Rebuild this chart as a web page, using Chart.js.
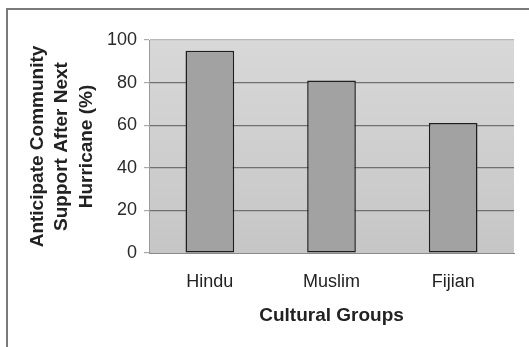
<!DOCTYPE html>
<html>
<head>
<meta charset="utf-8">
<script src="https://cdn.jsdelivr.net/npm/chart.js@4"></script>
<style>
  html, body { margin: 0; padding: 0; background: #fff; }
  #wrap { width: 529px; height: 347px; }
</style>
</head>
<body>
<div id="wrap"><canvas id="supportChart" width="529" height="347"></canvas></div>
<script>
// 各文化群體預期颶風後的社區支援
const groups = ['Hindu', 'Muslim', 'Fijian'];
const supportPct = [95, 81, 61];
const yTicks = [0, 20, 40, 60, 80, 100];

// 繪圖區灰色漸層背景
const plotBackground = {
    id: 'plotBackground',
    beforeDraw(chart) {
        const { ctx, chartArea: a } = chart;
        const g = ctx.createLinearGradient(0, a.top, 0, a.bottom);
        g.addColorStop(0, '#d8d8d8');
        g.addColorStop(1, '#c6c6c6');
        ctx.save();
        ctx.fillStyle = g;
        ctx.fillRect(a.left, a.top, a.right - a.left, a.bottom - a.top);
        ctx.restore();
    }
};

// 外框（左邊與上邊）
const outerFrame = {
    id: 'outerFrame',
    afterDraw(chart) {
        const ctx = chart.ctx;
        ctx.save();
        ctx.strokeStyle = '#7a7a7a';
        ctx.lineWidth = 2;
        ctx.beginPath();
        ctx.moveTo(7, 347);
        ctx.lineTo(7, 9);
        ctx.lineTo(529, 9);
        ctx.stroke();
        ctx.restore();
    }
};

document.addEventListener('DOMContentLoaded', function() {
    Chart.defaults.font.family = '"Liberation Sans", Arial, sans-serif';
    Chart.defaults.color = '#222';

    new Chart(document.getElementById('supportChart'), {
        type: 'bar',
        data: {
            labels: groups,
            datasets: [{
                data: supportPct,
                backgroundColor: '#a2a2a2',
                borderColor: '#1e1e1e',
                borderWidth: 1.5,
                borderSkipped: false,
                barPercentage: 0.4,
                categoryPercentage: 1
            }]
        },
        options: {
            responsive: false,
            animation: false,
            layout: { padding: { left: 0, top: 40, right: 15, bottom: 0 } },
            plugins: {
                legend: { display: false },
                tooltip: { enabled: false }
            },
            scales: {
                x: {
                    grid: { display: false },
                    border: { color: '#8a8a8a', width: 1 },
                    ticks: { font: { size: 18 }, padding: 10 },
                    title: {
                        display: true,
                        text: 'Cultural Groups',
                        font: { size: 19, weight: 'bold' },
                        padding: { top: 0, bottom: 20 }
                    },
                    afterFit(scale) { scale.height = 94; }
                },
                y: {
                    min: 0,
                    max: 100,
                    afterBuildTicks(scale) {
                        scale.ticks = yTicks.map(v => ({ value: v }));
                    },
                    grid: {
                        color: ctx => {
                            if (ctx.tick.value === 0) return 'rgba(0,0,0,0)';
                            if (ctx.tick.value === 100) return '#b8b8b8';
                            return '#707070';
                        },
                        lineWidth: 1.2,
                        tickLength: 5,
                        tickColor: '#aaa'
                    },
                    border: { color: '#9a9a9a', width: 1 },
                    ticks: { font: { size: 18 }, padding: 7, color: '#2a2a2a' },
                    title: {
                        display: true,
                        text: ['Anticipate Community', 'Support After Next', 'Hurricane (%)'],
                        font: { size: 19, weight: 'bold', lineHeight: 1.3 },
                        padding: { top: 25, bottom: 0 }
                    },
                    afterFit(scale) { scale.width = 149; }
                }
            }
        },
        plugins: [plotBackground, outerFrame]
    });
});
</script>
</body>
</html>
